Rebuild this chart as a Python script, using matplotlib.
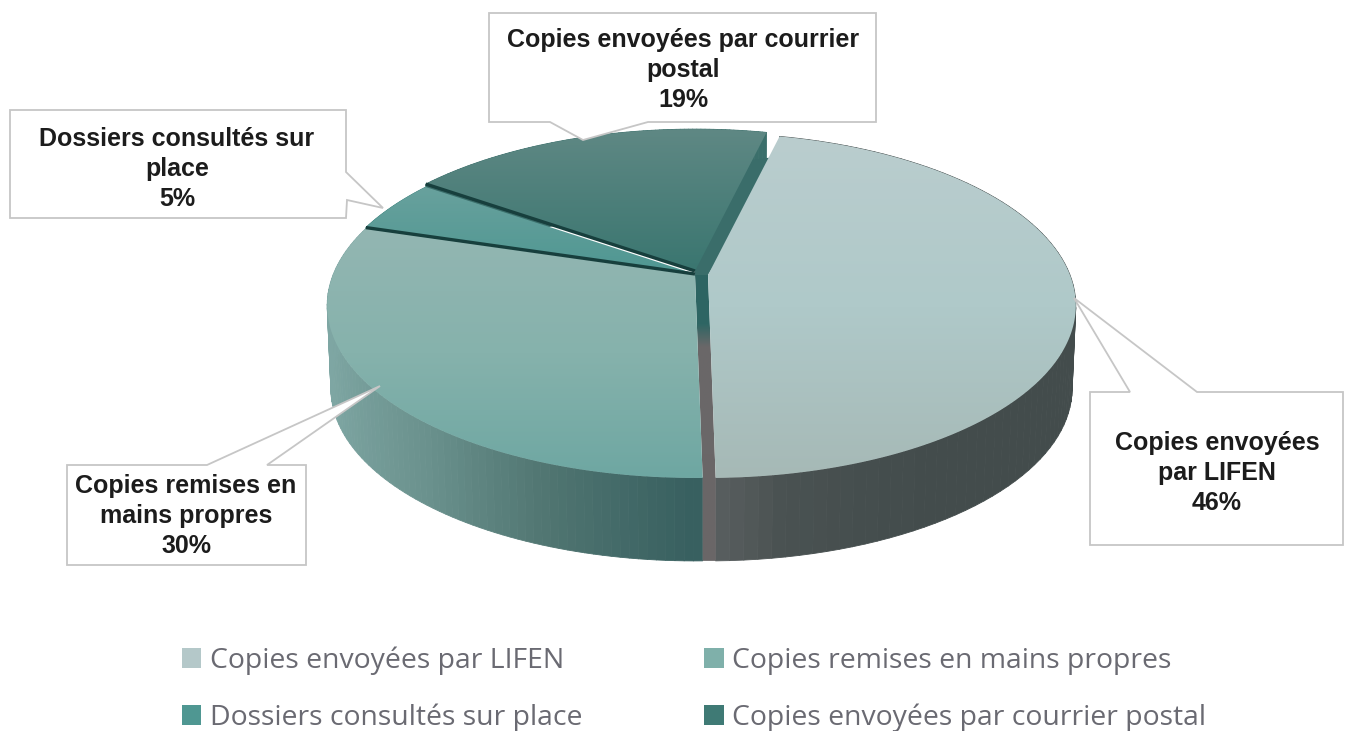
import numpy as np
import matplotlib
matplotlib.use("Agg")
import matplotlib.pyplot as plt
from matplotlib.patches import Polygon, Patch
from matplotlib.collections import PolyCollection
from matplotlib.colors import LinearSegmentedColormap

# ---- data
categories = ["Copies envoyées par LIFEN", "Copies remises en mains propres",
              "Dossiers consultés sur place", "Copies envoyées par courrier postal"]
values = [46, 30, 5, 19]
wrapped_names = ["Copies envoyées\npar LIFEN", "Copies remises en\nmains propres",
                 "Dossiers consultés sur\nplace", "Copies envoyées par courrier\npostal"]
legend_colors = ["#b4c8c9", "#7fb0aa", "#4f9792", "#3f7a75"]

# ---- styling / geometry (pixel space of the figure)
W, H = 1347, 731
START = 76.6
A, B, K, DEPTH = 362.0, 167.0, 0.177, 83.0
offsets = [(708, 275), (695, 275), (695, 274), (695, 271)]
top_grad = [["#bacdce", "#afc9c9", "#a6b9b6"],
            ["#93b6b2", "#86b2ac", "#6ea7a2"],
            ["#68a19d", "#4f9792"],
            ["#5f8884", "#3a7670"]]
side_grad = [["#434c4c", "#454e4e", "#4a5252", "#5c6162"],
             ["#386060", "#4f7470", "#6a918d", "#7ea6a3"],
             ["#4f8f8b", "#4f8f8b"],
             ["#3b6f6b", "#3b6f6b"]]
callout_edge = "#c6c6c6"

fig = plt.figure(figsize=(W / 100, H / 100), dpi=100, facecolor="white")
ax = fig.add_axes([0, 0, 1, 1])


def project(theta_deg, org, depth=0.0, scale=1.0):
    t = np.radians(theta_deg)
    u, v = np.cos(t), np.sin(t)
    den = 1 + K * v
    return org[0] + scale * A * u / den, org[1] + depth - B * v / den


def vgrad(poly, colors, y0=None, y1=None, zorder=2):
    poly = np.asarray(poly)
    patch = Polygon(poly, closed=True, fc="none", ec="none", transform=ax.transData)
    ax.add_patch(patch)
    y0 = poly[:, 1].min() if y0 is None else y0
    y1 = poly[:, 1].max() if y1 is None else y1
    cmap = LinearSegmentedColormap.from_list("g", colors)
    im = ax.imshow(np.linspace(0, 1, 256)[:, None], cmap=cmap, aspect="auto",
                   extent=(poly[:, 0].min(), poly[:, 0].max(), y1, y0), zorder=zorder,
                   interpolation="bilinear")
    im.set_clip_path(patch)


# wedge angle ranges (clockwise from START), derived from the values
fr = np.array(values) / np.sum(values)
ends = START - 360 * np.cumsum(fr)
starts = np.r_[START, ends[:-1]]

# outer side walls
for i in (3, 2, 1, 0):
    th = np.linspace(starts[i], ends[i], 90)
    x0, y0 = project(th, offsets[i])
    x1, y1 = project(th, offsets[i], DEPTH, 0.99)
    quads = [[(x0[j], y0[j]), (x0[j + 1], y0[j + 1]), (x1[j + 1], y1[j + 1]), (x1[j], y1[j])]
             for j in range(len(th) - 1)]
    cmap = LinearSegmentedColormap.from_list("s", side_grad[i])
    c = np.cos(np.radians(th[:-1]))
    pos = np.clip(np.abs(c), 0, 1)
    if i == 0:
        # light wedge: pale close to the front, dark towards the right
        pos = np.clip(1 - c / 0.55, 0, 1)
    if i == 1:
        pos = np.clip(-c * 1.05, 0, 1)
    cols = cmap(pos)
    ax.add_collection(PolyCollection(quads, facecolors=cols, edgecolors=cols, linewidths=0.6, zorder=1))

# cut face of the dark wedge, right side (fills the gap up to the light wedge)
xs, ys = project(starts[3], offsets[3])
xl, yl = project(starts[0], offsets[0])
ax.add_patch(Polygon([offsets[3], (xs, ys), (xs, ys + 17), (xl, yl + 20), offsets[0], offsets[1]],
                     fc="#3a6d6a", ec="none", zorder=1.5))

# central gap between the wedges
xe0, ye0 = project(ends[0], offsets[0])
xe1, ye1 = project(ends[0], offsets[1])
gap = [offsets[1], offsets[0], (xe0, ye0), (xe0, ye0 + DEPTH), (xe1, ye1 + DEPTH), (xe1, ye1)]
vgrad(gap, [(0, "#2d6462"), (0.17, "#2f6664"), (0.25, "#6a6869"), (1, "#6a6667")],
      y0=offsets[1][1], y1=ye1 + DEPTH, zorder=1.7)

# top faces
for i in range(4):
    th = np.linspace(starts[i], ends[i], 160)
    x, y = project(th, offsets[i])
    poly = np.column_stack([np.r_[offsets[i][0], x], np.r_[offsets[i][1], y]])
    vgrad(poly, top_grad[i], zorder=3)

# dark separators
for i in (2, 3):
    x, y = project(starts[i], offsets[i])
    ax.plot([offsets[i][0], x], [offsets[i][1], y], color="#173f3d", lw=2.4,
            solid_capstyle="butt", zorder=4)

# call-outs: box + pointer outline (px)
callouts = [
    ([(1090, 392), (1130, 392), (1074, 298), (1197, 392), (1343, 392), (1343, 545), (1090, 545)],
     (1217, 473)),
    ([(67, 465), (207, 465), (380, 386), (267, 465), (306, 465), (306, 565), (67, 565)],
     (186, 516)),
    ([(10, 110), (346, 110), (346, 172), (383, 208), (347, 200), (346, 218), (10, 218)],
     (177, 169)),
    ([(489, 13), (876, 13), (876, 122), (648, 122), (583, 140), (550, 122), (489, 122)],
     (683, 70)),
]
for i, (outline, pos) in enumerate(callouts):
    ax.add_patch(Polygon(outline, closed=True, fc="white", ec=callout_edge, lw=1.3,
                         joinstyle="miter", zorder=5))
    ax.text(pos[0], pos[1], f"{wrapped_names[i]}\n{values[i]}%", ha="center", va="center",
            family="Liberation Sans", fontweight="bold", fontsize=18, color="#1c1c1c",
            linespacing=1.34, zorder=6)

ax.set_xlim(0, W)
ax.set_ylim(H, 0)
ax.axis("off")

# legend fills column by column, the reference reads row by row
order = [0, 2, 1, 3]
handles = [Patch(fc=legend_colors[k], ec="none", label=categories[k]) for k in order]
leg = ax.legend(handles=handles, ncols=2, frameon=False, prop={"family": "Open Sans", "size": 20.4},
                labelcolor="#6a6a72", loc="upper left", bbox_to_anchor=(182 / W, 1 - 646.5 / H),
                bbox_transform=ax.transAxes, handlelength=0.68, handleheight=0.68,
                handletextpad=0.31, columnspacing=4.3, labelspacing=1.0, borderpad=0, borderaxespad=0)

fig.savefig("out.png", dpi=100, facecolor="white")
